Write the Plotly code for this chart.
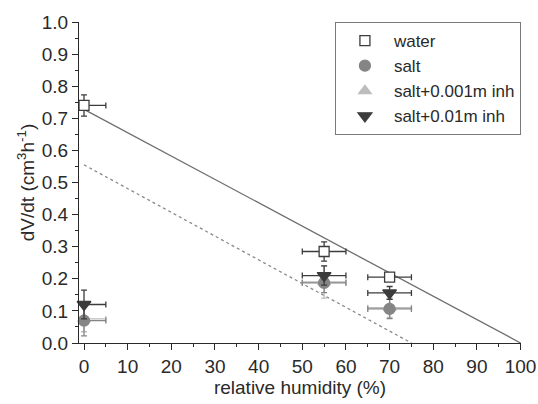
import plotly.graph_objects as go

rh = [0, 55, 70]
rh_err = [5, 5, 5]

water = [0.74, 0.285, 0.205]
water_err = [0.033, 0.03, 0.012]
salt = [0.07, 0.187, 0.106]
salt_err = [0.048, 0.03, 0.03]
salt_inh001 = [0.075, 0.19, 0.11]
salt_inh001_err = [0.04, 0.05, 0.03]
salt_inh01 = [0.12, 0.21, 0.156]
salt_inh01_err = [0.045, 0.03, 0.02]

fit_x = [0, 100]
fit_y = [0.728, 0.0]
fit2_x = [0, 75]
fit2_y = [0.555, 0.0]

fig = go.Figure()

fig.add_trace(go.Scatter(x=fit_x, y=fit_y, mode="lines", line=dict(color="#6e6e6e", width=1.3), showlegend=False))
fig.add_trace(go.Scatter(x=fit2_x, y=fit2_y, mode="lines", line=dict(color="#8a8a8a", width=1.3, dash="dot"), showlegend=False))

def series(name, y, yerr, color, symbol, fill, size, rank):
    fig.add_trace(go.Scatter(
        x=rh, y=y, mode="markers", name=name, legendrank=rank, cliponaxis=False,
        marker=dict(symbol=symbol, color=fill, size=size, line=dict(color=color, width=1.3)),
        error_x=dict(type="data", array=rh_err, color=color, thickness=1.3, width=3),
        error_y=dict(type="data", array=yerr, color=color, thickness=1.3, width=3),
    ))

series("salt+0.001m inh", salt_inh001, salt_inh001_err, "#bdbdbd", "triangle-up", "#bdbdbd", 11, 3)
series("salt", salt, salt_err, "#858585", "circle", "#858585", 11, 2)
series("salt+0.01m inh", salt_inh01, salt_inh01_err, "#3c3c3c", "triangle-down", "#3c3c3c", 12, 4)
series("water", water, water_err, "#3c3c3c", "square", "white", 10, 1)

font = "Liberation Sans, Arial, sans-serif"
fig.update_layout(
    width=538, height=404,
    margin=dict(l=79, r=17, t=22, b=61, autoexpand=False),
    plot_bgcolor="white", paper_bgcolor="white",
    font=dict(family=font, size=19, color="#2a2a2a"),
    showlegend=True,
    legend=dict(x=0.579, y=1.0, xanchor="left", yanchor="top", bordercolor="#7a7a7a", borderwidth=1,
                bgcolor="white", font=dict(size=17), tracegroupgap=0, itemwidth=48),
    xaxis=dict(range=[-1.15, 100.1], tickvals=list(range(0, 101, 10)), showgrid=False, zeroline=False,
               automargin=False,
               showline=True, linecolor="#2a2a2a", linewidth=1.3, ticks="outside", ticklen=6,
               tickcolor="#2a2a2a", tickwidth=1.3,
               minor=dict(dtick=5, tick0=0, ticks="outside", ticklen=3, tickcolor="#2a2a2a", tickwidth=1.3),
               title=dict(text="relative humidity (%)", font=dict(size=19), standoff=2)),
    yaxis=dict(range=[0, 1.0], dtick=0.1, tickformat=".1f", showgrid=False, zeroline=False,
               automargin=False,
               showline=True, linecolor="#2a2a2a", linewidth=1.3, ticks="outside", ticklen=6,
               tickcolor="#2a2a2a", tickwidth=1.3,
               minor=dict(dtick=0.05, ticks="outside", ticklen=3, tickcolor="#2a2a2a", tickwidth=1.3),
               title=dict(text="dV/dt (cm<sup>3</sup>h<sup>-1</sup>)", font=dict(size=19), standoff=1)),
)

fig.write_html("out.html")
